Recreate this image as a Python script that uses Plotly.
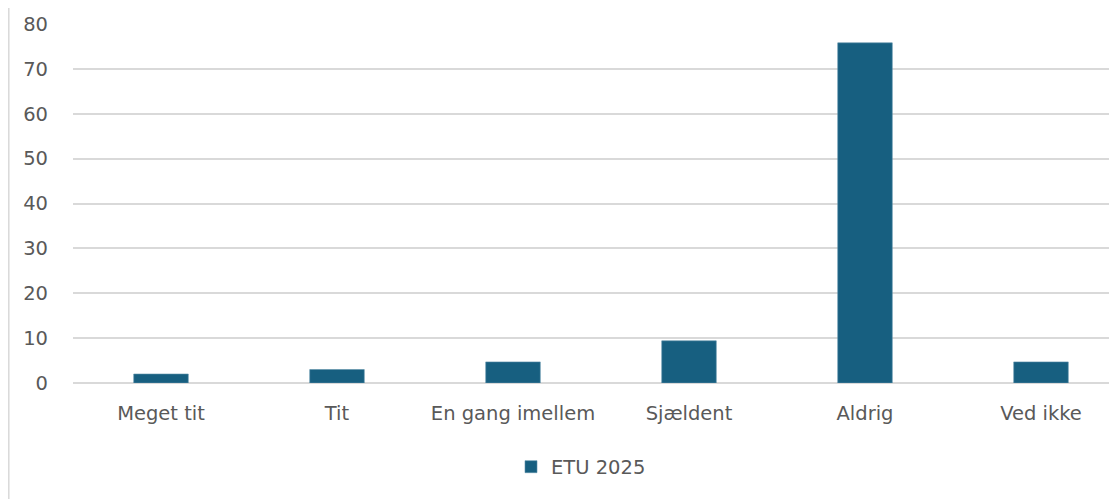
import plotly.graph_objects as go

categories = ["Meget tit", "Tit", "En gang imellem", "Sjældent", "Aldrig", "Ved ikke"]
values = [2.0, 3.0, 4.7, 9.4, 75.8, 4.7]
series_name = "ETU 2025"
y_ticks = [0, 10, 20, 30, 40, 50, 60, 70, 80]

# the page body has an 8px margin, so the figure is drawn 8px in and down
OFF = 8
W, H = 1117 - OFF, 499 - OFF
L, R, T = 73 - OFF, 0, 24 - OFF
ZERO = 383 - OFF
B = H - ZERO
plot_w = W - L - R
plot_h = H - T - B

fig = go.Figure()
fig.add_trace(go.Bar(
    x=list(range(len(categories))), y=values, name=series_name,
    marker=dict(color="#175F80", line=dict(color="#5B8FA8", width=0.6)),
    width=0.31,
))

span = plot_w / 176.0
FONT = "DejaVu Sans, Liberation Sans, sans-serif"
FS = 19.5
fig.update_layout(
    width=W, height=H,
    margin=dict(l=L, r=R, t=T, b=B, autoexpand=False),
    paper_bgcolor="white", plot_bgcolor="white",
    font=dict(family=FONT, size=FS, color="#595959"),
    xaxis=dict(
        range=[-0.5, -0.5 + span],
        tickmode="array", tickvals=list(range(len(categories))), ticktext=categories,
        showgrid=False, zeroline=False, showline=False, ticks="",
        tickfont=dict(family=FONT, size=FS, color="#595959"),
        ticklabelstandoff=16,
    ),
    yaxis=dict(
        range=[0, 80], tickvals=y_ticks,
        showgrid=True, gridcolor="#D9D9D9", gridwidth=1.8,
        zeroline=True, zerolinecolor="#D9D9D9", zerolinewidth=1.8,
        showline=False, ticks="", ticklabelstandoff=24,
        tickfont=dict(family=FONT, size=FS, color="#595959"),
    ),
    showlegend=True,
    legend=dict(
        orientation="h", x=(581 - 73) / plot_w, xanchor="center",
        y=(383 - 467) / plot_h, yanchor="middle",
        font=dict(family=FONT, size=FS, color="#595959"),
        itemwidth=30,
    ),
    shapes=[dict(
        type="line", xref="paper", yref="paper",
        x0=(0.8 - L) / plot_w, x1=(0.8 - L) / plot_w,
        y0=-B / plot_h, y1=(ZERO + OFF) / plot_h,
        line=dict(color="#D9D9D9", width=1.5),
    )],
)
fig.write_html("out.html")
